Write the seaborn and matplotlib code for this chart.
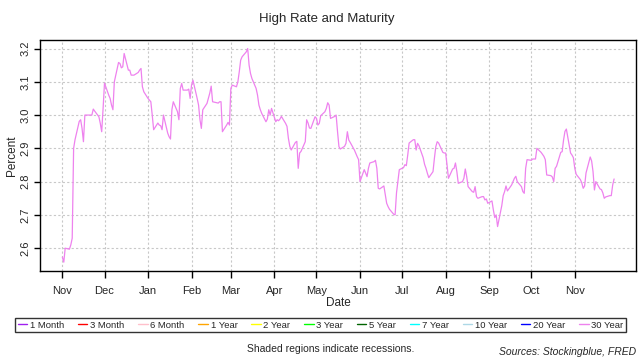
import matplotlib
matplotlib.use("Agg")
import matplotlib.pyplot as plt
import matplotlib.dates as mdates
from matplotlib.lines import Line2D
import pandas as pd
import seaborn as sns

# 30 year rate, one value per business day
nov_2017 = [2.573, 2.558, 2.600, 2.597, 2.610, 2.630, 2.900, 2.926, 2.981, 2.986, 2.960,
            2.920, 3.000, 3.000, 3.000, 3.000, 3.018, 3.012, 2.995, 2.975, 2.950, 3.020]
dec_2017 = [3.096, 3.060, 3.050, 3.030, 3.016, 3.100, 3.158, 3.155, 3.142, 3.145, 3.185,
            3.135, 3.135, 3.120, 3.120, 3.120, 3.128, 3.135, 3.140, 3.085, 3.070]
jan_2018 = [3.050, 3.045, 3.040, 3.000, 2.956, 2.976, 2.970, 2.968, 2.956, 3.000, 2.946,
            2.935, 2.928, 3.016, 3.040, 3.010, 2.986, 3.080, 3.095, 3.075, 3.075, 3.078, 3.050]
feb_2018 = [3.090, 3.105, 3.050, 3.030, 2.986, 2.960, 3.016, 3.035, 3.050, 3.066,
            3.087, 3.040, 3.037, 3.036, 3.040, 3.040, 2.950, 2.970, 2.978, 2.970]
mar_2018 = [3.080, 3.090, 3.085, 3.100, 3.130, 3.165, 3.175, 3.190, 3.200, 3.150, 3.125,
            3.110, 3.080, 3.060, 3.030, 3.016, 3.005, 2.980, 2.988, 3.016, 3.000, 3.020]
apr_2018 = [2.980, 2.986, 2.983, 2.988, 2.996, 2.975, 2.966, 2.930, 2.906, 2.895, 2.918,
            2.921, 2.840, 2.886, 2.891, 2.920, 2.986, 2.976, 2.961, 2.960, 2.995]
may_2018 = [2.990, 2.970, 2.975, 2.998, 3.010, 3.020, 3.037, 3.030, 2.990, 2.996, 3.000, 2.950,
            2.905, 2.898, 2.906, 2.915, 2.950, 2.925, 2.918, 2.895, 2.885, 2.875, 2.866]
jun_2018 = [2.800, 2.836, 2.826, 2.815, 2.840, 2.856, 2.860, 2.864, 2.840, 2.780, 2.778,
            2.787, 2.760, 2.735, 2.725, 2.717, 2.702, 2.700, 2.766, 2.800, 2.836]
jul_2018 = [2.842, 2.851, 2.848, 2.880, 2.916, 2.926, 2.926, 2.895, 2.915, 2.908, 2.872,
            2.852, 2.840, 2.825, 2.812, 2.830, 2.870, 2.905, 2.920, 2.916, 2.888, 2.886]
aug_2018 = [2.886, 2.850, 2.810, 2.838, 2.840, 2.856, 2.830, 2.795, 2.800, 2.810, 2.838, 2.815,
            2.785, 2.770, 2.768, 2.785, 2.755, 2.750, 2.755, 2.755, 2.745, 2.748, 2.735]
sep_2018 = [2.742, 2.715, 2.692, 2.700, 2.665, 2.728, 2.758, 2.770, 2.787, 2.772,
            2.790, 2.800, 2.810, 2.816, 2.800, 2.785, 2.770, 2.765, 2.840, 2.866]
oct_2018 = [2.864, 2.868, 2.868, 2.868, 2.900, 2.888, 2.882, 2.876, 2.866, 2.820, 2.818, 2.814,
            2.800, 2.840, 2.846, 2.888, 2.890, 2.925, 2.951, 2.958, 2.886, 2.880, 2.872]
nov_2018 = [2.840, 2.822, 2.806, 2.796, 2.780, 2.787, 2.826, 2.874, 2.862, 2.830, 2.775,
            2.800, 2.778, 2.776, 2.766, 2.750, 2.754, 2.758, 2.758, 2.790, 2.808]

month_ticks = pd.date_range("2017-11-01", "2018-11-01", freq="MS")
y_ticks = [2.6, 2.7, 2.8, 2.9, 3.0, 3.1, 3.2]

series_names = ["1 Month", "3 Month", "6 Month", "1 Year", "2 Year", "3 Year",
                "5 Year", "7 Year", "10 Year", "20 Year", "30 Year"]
series_colors = ["#A020F0", "#FF0000", "#FFC0CB", "#FFA500", "#FFFF00", "#00FF00",
                 "#006400", "#00FFFF", "#ADD8E6", "#0000FF", "#EE82EE"]

rates = (nov_2017 + dec_2017 + jan_2018 + feb_2018 + mar_2018 + apr_2018 + may_2018
         + jun_2018 + jul_2018 + aug_2018 + sep_2018 + oct_2018 + nov_2018)
df = pd.DataFrame({"Date": pd.bdate_range("2017-11-01", periods=len(rates)),
                   "Percent": rates})

sns.set_style("white")
plt.rcParams["font.family"] = ["Liberation Sans", "DejaVu Sans"]

fig = plt.figure(figsize=(6.4, 3.6), dpi=100)
ax = fig.add_axes([0.063, 0.248, 0.931, 0.641])

sns.lineplot(data=df, x="Date", y="Percent", color="#EE82EE", linewidth=0.9, ax=ax)

# R style 4% padding
span = df["Date"].max() - df["Date"].min()
ax.set_xlim(df["Date"].min() - span * 0.04, df["Date"].max() + span * 0.04)
lo, hi = min(rates), max(rates)
ax.set_ylim(lo - (hi - lo) * 0.04, hi + (hi - lo) * 0.04)

ax.set_xticks(month_ticks)
ax.xaxis.set_major_formatter(mdates.DateFormatter("%b"))
ax.set_yticks(y_ticks)
ax.grid(True, color="#C8C8C8", linestyle=(0, (2, 2)), linewidth=0.8)
for s in ax.spines.values():
    s.set_color("black")
    s.set_linewidth(1.0)
ax.tick_params(axis="x", direction="out", length=5, width=1, color="black",
               labelsize=8, pad=6, bottom=True)
ax.tick_params(axis="y", direction="out", length=4, width=1, color="black",
               labelsize=8, pad=3, left=True, labelrotation=90)
plt.setp(ax.get_yticklabels(), va="center")
ax.set_xlabel("Date", fontsize=8.5, labelpad=1)
ax.set_ylabel("Percent", fontsize=8.5, labelpad=2)

fig.text(0.51, 1 - 19 / 360, "High Rate and Maturity", ha="center", va="center", fontsize=9.5)

handles = [Line2D([], [], color=c, linewidth=1) for c in series_colors]
leg = fig.legend(handles, series_names, loc="center", bbox_to_anchor=(0.501, 1 - 325 / 360),
                 ncol=11, fontsize=6.8, frameon=True, fancybox=False, edgecolor="black",
                 handlelength=1.0, handletextpad=0.3, columnspacing=1.45, borderpad=0.25)
leg.get_frame().set_linewidth(1.0)

fig.text(0.516, 1 - 349 / 360, "Shaded regions indicate recessions.", ha="center",
         va="center", fontsize=7.5)
fig.text(0.994, 1 - 352 / 360, "Sources: Stockingblue, FRED", ha="right", va="center",
         fontsize=7.5, style="italic")

fig.savefig("out.png", dpi=100)
